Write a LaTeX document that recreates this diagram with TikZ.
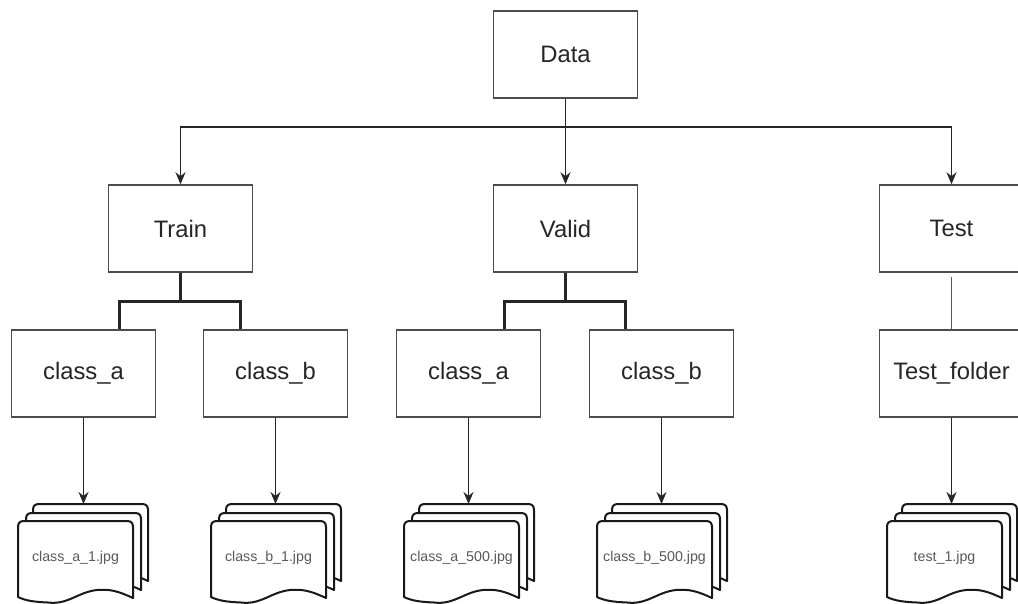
\documentclass[tikz,border=0pt]{standalone}
\usepackage{fontspec}
\setmainfont{Liberation Sans}
\usetikzlibrary{arrows.meta}
\tikzset{
  box/.style={draw=black!70,line width=1.5pt,fill=white,minimum width=144pt,minimum height=87pt,inner sep=0pt,text=black!85,font=\fontsize{23.8}{27}\selectfont},
  arrowline/.style={draw=black!85,line width=1.5pt,-{Stealth[length=12pt,width=10pt]}},
  plainline/.style={draw=black!65,line width=1.5pt},
  heavyline/.style={draw=black!85,line width=3pt},
  sheet/.style={draw=black!90,line width=2pt,fill=white,line join=round},
  doclabel/.style={inner sep=0pt,text=black!65,font=\fontsize{14.2}{16}\selectfont},
  pics/docsheet/.style={code={
    \path[sheet] (0,6) .. controls (0,2) and (2,0) .. (6,0) -- (109,0) .. controls (113,0) and (115,2) .. (115,6)
      -- (115,77) .. controls (100,70) and (92,68) .. (79,69) .. controls (60,71) and (50,84) .. (30,81.5) .. controls (18,81) and (8,80) .. (0,76) -- cycle;
  }},
  pics/docstack/.style={code={
    \pic at (15,-17) {docsheet};
    \pic at (8,-8) {docsheet};
    \pic at (0,0) {docsheet};
  }}
}
\begin{document}
\begin{tikzpicture}[x=1pt,y=-1pt]
\useasboundingbox (0,0) rectangle (1018,603);
\clip (0,0) rectangle (1018,603);
\fill[white] (0,0) rectangle (1018,603);
% boxes
\node[box] (data) at (565.5,54.5) {Data};
\node[box] (train) at (180.5,228.5) {Train};
\node[box] (valid) at (565.5,228.5) {Valid};
\node[box] (test) at (951.5,228.5) {Test};
\node[box] (ca1) at (83.5,373.5) {class\_a};
\node[box] (cb1) at (275.5,373.5) {class\_b};
\node[box] (ca2) at (468.5,373.5) {class\_a};
\node[box] (cb2) at (661.5,373.5) {class\_b};
\node[box] (tf) at (951.5,373.5) {Test\_folder};
% document stacks
\pic at (18,521) {docstack};
\pic at (211,521) {docstack};
\pic at (404,521) {docstack};
\pic at (597,521) {docstack};
\pic at (887,521) {docstack};
\node[doclabel] (d1) at (75.5,558) {class\_a\_1.jpg};
\node[doclabel] (d2) at (268.5,558) {class\_b\_1.jpg};
\node[doclabel] (d3) at (461.5,558) {class\_a\_500.jpg};
\node[doclabel] (d4) at (654.5,558) {class\_b\_500.jpg};
\node[doclabel] (d5) at (944.5,558) {test\_1.jpg};
\coordinate (t1) at (83.5,504);
\coordinate (t2) at (275.5,504);
\coordinate (t3) at (468.5,504);
\coordinate (t4) at (661.5,504);
\coordinate (t5) at (951.5,504);
% connectors
\coordinate (bus) at (565.5,127);
\draw[arrowline] (data.south) -- (valid.north);
\draw[arrowline] (bus) -| (train.north);
\draw[arrowline] (bus) -| (test.north);
\coordinate (tgap) at (951.5,277);
\draw[plainline] (tgap) -- (tf.north);
\draw[heavyline] (train.south) -- ++(0,29) coordinate (b1);
\draw[heavyline] ([xshift=36pt]ca1.north) |- (b1) -| ([xshift=-35pt]cb1.north);
\draw[heavyline] (valid.south) -- ++(0,29) coordinate (b2);
\draw[heavyline] ([xshift=36pt]ca2.north) |- (b2) -| ([xshift=-36pt]cb2.north);
\draw[arrowline] (ca1.south) -- (t1);
\draw[arrowline] (cb1.south) -- (t2);
\draw[arrowline] (ca2.south) -- (t3);
\draw[arrowline] (cb2.south) -- (t4);
\draw[arrowline] (tf.south) -- (t5);
\end{tikzpicture}
\end{document}
